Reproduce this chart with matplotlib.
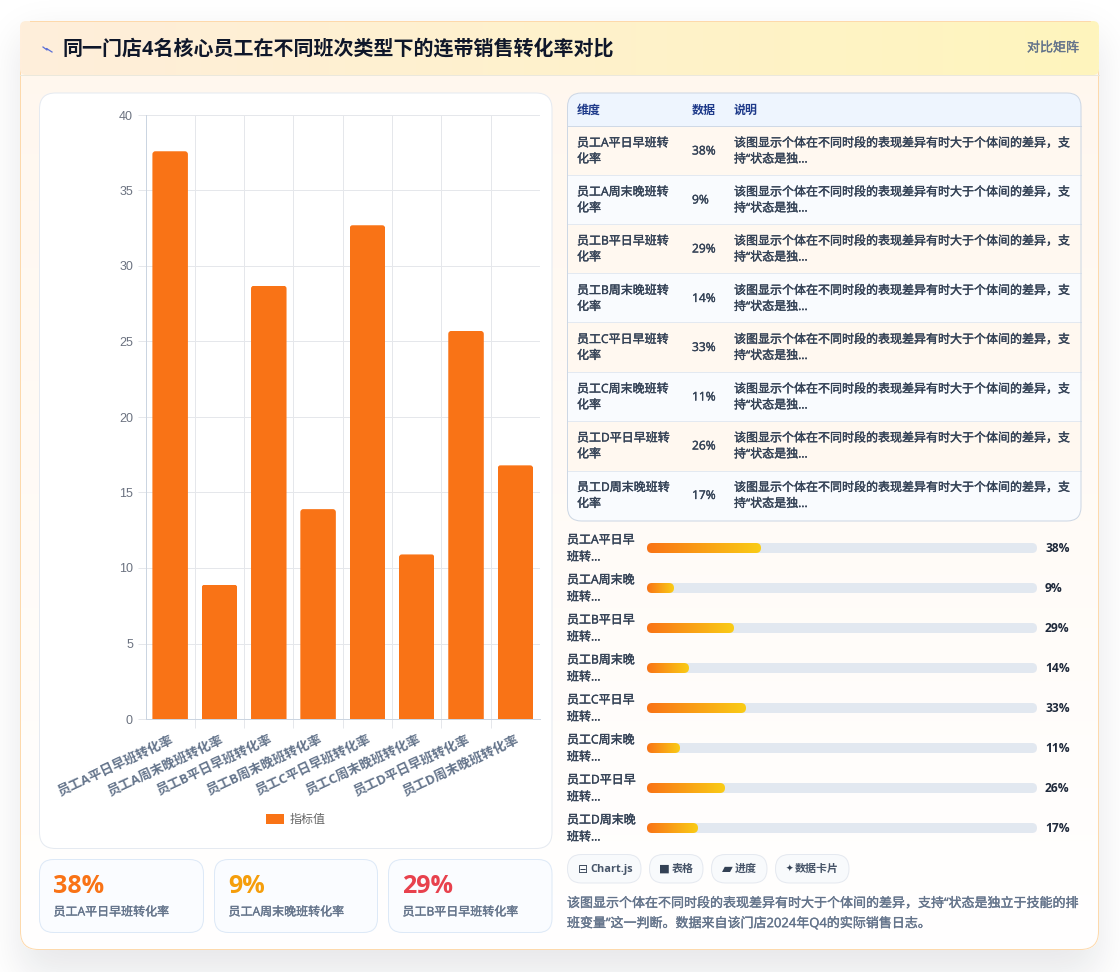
from math import erf

import numpy as np
from matplotlib import patheffects
from matplotlib import pyplot as plt
from matplotlib.colors import to_rgb
from matplotlib.patches import FancyBboxPatch, Rectangle
from matplotlib.transforms import ScaledTranslation

plt.rcParams['font.family'] = ['Open Sans', 'Noto Sans CJK SC', 'DejaVu Sans']

WIDTH, HEIGHT = 1120, 972

categories = ['员工A平日早班转化率', '员工A周末晚班转化率', '员工B平日早班转化率', '员工B周末晚班转化率',
              '员工C平日早班转化率', '员工C周末晚班转化率', '员工D平日早班转化率', '员工D周末晚班转化率']
chart_values = [37.6, 8.9, 28.7, 13.9, 32.7, 10.9, 25.7, 16.8]
percent_values = [38, 9, 29, 14, 33, 11, 26, 17]
y_ticks = [0, 5, 10, 15, 20, 25, 30, 35, 40]

table_headers = ['维度', '数据', '说明']
table_note = ['该图显示个体在不同时段的表现差异有时大于个体间的差异，支', '持“状态是独...']
card_colors = ['#f97316', '#f59e0b', '#e8414d']
chips = [('⊟', 'Chart.js'), ('■', '表格'), ('▰', '进度'), ('✦', '数据卡片')]
footer_lines = ['该图显示个体在不同时段的表现差异有时大于个体间的差异，支持“状态是独立于技能的排',
                '班变量”这一判断。数据来自该门店2024年Q4的实际销售日志。']

TITLE = '同一门店4名核心员工在不同班次类型下的连带销售转化率对比'
BADGE = '对比矩阵'
LEGEND_LABEL = '指标值'


def px(size):
    # css pixels to points at dpi 100
    return size * 0.72


def rounded_box(x0, y0, x1, y1, radius, **kwargs):
    return FancyBboxPatch((x0 + radius, y0 + radius), x1 - x0 - 2 * radius, y1 - y0 - 2 * radius,
                          boxstyle=f'round,pad={radius},rounding_size={radius}', **kwargs)


def gradient(axes, extent, start, end, horizontal=True, clip=None, zorder=1):
    x0, y0, x1, y1 = extent
    ramp = np.linspace(0, 1, 256)
    colors = np.outer(1 - ramp, to_rgb(start)) + np.outer(ramp, to_rgb(end))
    image = colors[np.newaxis, :, :] if horizontal else colors[:, np.newaxis, :]
    artist = axes.imshow(image, extent=(x0, x1, y1, y0), aspect='auto', interpolation='bilinear', zorder=zorder)
    if clip is not None:
        artist.set_clip_path(clip)
    return artist


def draw_shadow(axes, x0, y0, x1, y1, sigma, strength):
    # soft box shadow, product of two blurred edges
    blur = np.vectorize(erf)
    xs = np.arange(WIDTH) + 0.5
    ys = np.arange(HEIGHT) + 0.5
    across = 0.5 * (blur((xs - x0) / (sigma * 2 ** 0.5)) - blur((xs - x1) / (sigma * 2 ** 0.5)))
    down = 0.5 * (blur((ys - y0) / (sigma * 2 ** 0.5)) - blur((ys - y1) / (sigma * 2 ** 0.5)))
    layer = np.zeros((HEIGHT, WIDTH, 4))
    layer[..., :3] = to_rgb('#0f172a')
    layer[..., 3] = strength * np.outer(down, across)
    axes.imshow(layer, extent=(0, WIDTH, HEIGHT, 0), aspect='auto', zorder=0)


def semibold(axes, x, y, text, size, color, **kwargs):
    # regular weight with a hairline stroke, the font has no semibold cut here
    return axes.text(x, y, text, fontsize=px(size), color=color, va='center', zorder=3,
                     path_effects=[patheffects.withStroke(linewidth=0.25, foreground=color)], **kwargs)


figure = plt.figure(figsize=(WIDTH / 100, HEIGHT / 100), dpi=100, facecolor='white')
canvas = figure.add_axes([0, 0, 1, 1])
canvas.set_axis_off()
LINE = px(1)

# outer card
draw_shadow(canvas, 20, 36, 1099, 975, 20, 0.1)
card = rounded_box(20, 21, 1099, 950, 18, facecolor='white', edgecolor='none', zorder=1,
                   transform=canvas.transData)
canvas.add_patch(card)
gradient(canvas, (20, 40, 1099, 950), '#fff7ee', '#ffffff', horizontal=False, clip=card, zorder=1.1)
canvas.add_patch(rounded_box(20.5, 21.5, 1098.5, 949.5, 18, facecolor='none', edgecolor='#fdd9ac',
                             linewidth=LINE, zorder=1.2))
header = rounded_box(20, 21, 1099, 75, 6, facecolor='none', edgecolor='none', zorder=1.3)
canvas.add_patch(header)
gradient(canvas, (20, 21, 1099, 75), '#ffeedb', '#fef5bd', clip=header, zorder=1.3)
canvas.plot([30, 1090], [21.5, 21.5], color='#fdd9ac', linewidth=LINE, zorder=1.4)
canvas.plot([20, 1099], [75.5, 75.5], color='#ebe8dc', linewidth=LINE, zorder=1.4)

# header
canvas.plot([43, 47, 46.5, 52], [47, 50, 48.5, 52], color='#5b6fd6', linewidth=0.9, zorder=3)
canvas.text(63, 50, TITLE, fontsize=px(20), fontweight='bold', color='#0f172a', va='center', zorder=3)
semibold(canvas, 1079, 48, BADGE, 13, '#64748b', ha='right')

# chart panel
canvas.add_patch(rounded_box(39.5, 93, 552, 848.5, 16, facecolor='white', edgecolor='#e5eaf1', linewidth=LINE, zorder=2))

# stat cards
card_edges = [(39.5, 203.5), (214.5, 377.5), (388.5, 552)]
for (left, right), value, label, color in zip(card_edges, percent_values, categories, card_colors):
    canvas.add_patch(rounded_box(left, 859.5, right, 932.5, 14, facecolor='#fafcff', edgecolor='#dde9f7',
                                 linewidth=LINE, zorder=2))
    canvas.text(left + 14, 886, f'{value}%', fontsize=px(25), fontweight='bold', color=color, va='center', zorder=3)
    semibold(canvas, left + 14, 912, label, 12, '#64748b')

# table panel
row_edges = [126, 175, 224, 273.5, 322.5, 372, 421, 470.5, 521]
table = rounded_box(567.5, 93, 1081, 521, 14, facecolor='white', edgecolor='none', zorder=2)
canvas.add_patch(table)
header_fill = canvas.add_patch(Rectangle((567, 93), 515, 33, facecolor='#eef5fe', edgecolor='none', zorder=2.1))
header_fill.set_clip_path(table)
canvas.plot([567.5, 1081], [126, 126], color='#cfd9e6', linewidth=LINE, zorder=2.4)
for x, column in zip([577, 692, 734], table_headers):
    canvas.text(x, 110, column, fontsize=px(12), fontweight='bold', color='#1e3a8a', va='center', zorder=3)

for index, (name, value) in enumerate(zip(categories, percent_values)):
    top, bottom = row_edges[index], row_edges[index + 1]
    shade = '#fff8f0' if index % 2 == 0 else '#f9fbfe'
    row = canvas.add_patch(Rectangle((567, top), 515, bottom - top, facecolor=shade, edgecolor='none', zorder=2.1))
    row.set_clip_path(table)
    if index > 0:
        canvas.plot([567.5, 1081], [top, top], color='#e3e9f1', linewidth=LINE, zorder=2.4)
    semibold(canvas, 577, top + 17, name[:8], 12, '#334155')
    semibold(canvas, 577, top + 33, name[8:], 12, '#334155')
    semibold(canvas, 692, top + 25, f'{value}%', 12, '#334155')
    semibold(canvas, 734, top + 17, table_note[0], 12, '#334155')
    semibold(canvas, 734, top + 33, table_note[1], 12, '#334155')
canvas.add_patch(rounded_box(567.5, 93, 1081, 521, 14, facecolor='none', edgecolor='#cdd7e4', linewidth=LINE, zorder=2.5))

# progress rows, 3 px per percentage point on a 390 px track
TRACK_LEFT, TRACK_RIGHT, TRACK_SCALE = 647, 1037, 130
for index, (name, value) in enumerate(zip(categories, percent_values)):
    center = 548 + 40 * index
    semibold(canvas, 567, center - 8, name[:6], 12, '#334155')
    semibold(canvas, 567, center + 9, name[6:8] + '...', 12, '#334155')
    canvas.add_patch(rounded_box(TRACK_LEFT, center - 5, TRACK_RIGHT, center + 5, 5, facecolor='#e2e8f0',
                                 edgecolor='none', zorder=2))
    fill_right = TRACK_LEFT + (TRACK_RIGHT - TRACK_LEFT) * value / TRACK_SCALE
    fill = rounded_box(TRACK_LEFT, center - 5, fill_right, center + 5, 5, facecolor='none', edgecolor='none', zorder=2.1)
    canvas.add_patch(fill)
    gradient(canvas, (TRACK_LEFT, center - 5, fill_right, center + 5), '#f97316', '#facc15', clip=fill, zorder=2.2)
    canvas.text(1045, center + 0.5, f'{value}%', fontsize=px(12), fontweight='bold', color='#1e293b', va='center', zorder=3)

# chips
chip_edges = [(567.5, 641), (649.5, 703), (711.5, 767), (775.5, 849)]
chip_label_offsets = [22.5, 22.5, 23.5, 19.5]
chip_icon_sizes = [12, 11.5, 14, 9]
for (left, right), (icon, label), offset, icon_size in zip(chip_edges, chips, chip_label_offsets, chip_icon_sizes):
    canvas.add_patch(rounded_box(left, 854.5, right, 883, 14, facecolor='#f8fafc', edgecolor='#e5e9f0',
                                 linewidth=LINE, zorder=2))
    canvas.text(left + 10, 869, icon, fontsize=px(icon_size), color='#334155', va='center', family='DejaVu Sans', zorder=3)
    canvas.text(left + offset, 869, label, fontsize=px(11), fontweight='bold', color='#475569', va='center', zorder=3)

# footer
semibold(canvas, 567, 903.5, footer_lines[0], 13, '#64748b')
semibold(canvas, 567, 923.5, footer_lines[1], 13, '#64748b')

canvas.set_xlim(0, WIDTH)
canvas.set_ylim(HEIGHT, 0)

# bar chart
PLOT_LEFT, PLOT_RIGHT, PLOT_TOP, PLOT_BOTTOM = 145.5, 540, 115, 719
axes = figure.add_axes([PLOT_LEFT / WIDTH, 1 - PLOT_BOTTOM / HEIGHT,
                        (PLOT_RIGHT - PLOT_LEFT) / WIDTH, (PLOT_BOTTOM - PLOT_TOP) / HEIGHT])
axes.patch.set_alpha(0)
positions = np.arange(len(categories))
bars = axes.bar(positions, chart_values, width=0.72, color='#f97316', label=LEGEND_LABEL, zorder=3)
axes.set_xlim(-0.5, len(categories) - 0.5)
axes.set_ylim(0, 40)

# round the top corners only, the clip box runs past the baseline
for bar in bars:
    clip_box = FancyBboxPatch((bar.get_x() + 0.06, -1), bar.get_width() - 0.12, bar.get_height() + 1 - 0.2,
                              boxstyle='round,pad=0.06,rounding_size=0.06', mutation_aspect=3.3,
                              transform=axes.transData)
    bar.set_clip_path(clip_box)

axes.set_yticks(y_ticks)
axes.set_xticks(positions)
axes.set_xticklabels(categories, rotation=25, ha='right', va='top', rotation_mode='anchor', fontsize=px(13),
                     fontweight='bold', color='#64748b')
nudge = ScaledTranslation(-3 / 100, 0, figure.dpi_scale_trans)
for tick_label in axes.get_xticklabels():
    tick_label.set_transform(tick_label.get_transform() + nudge)
axes.set_xticks(positions[:-1] + 0.5, minor=True)
axes.tick_params(axis='x', which='major', length=0, pad=px(14))
axes.tick_params(axis='x', which='minor', length=px(9), color='#e5e7eb', width=LINE)
axes.tick_params(axis='y', length=px(8), color='#e5e7eb', width=LINE, pad=px(4.5), labelsize=px(12.5), labelcolor='#6b7280')
for tick_label in axes.get_yticklabels():
    tick_label.set_fontfamily('Liberation Sans')
axes.grid(axis='y', color='#e5e7eb', linewidth=LINE, zorder=1)
axes.grid(axis='x', which='minor', color='#e5e7eb', linewidth=LINE, zorder=1)
axes.set_axisbelow(True)
for side in ['top', 'right']:
    axes.spines[side].set_visible(False)
axes.spines['left'].set_color('#cbd5e1')
axes.spines['bottom'].set_color('#cbd5e1')
axes.spines['left'].set_linewidth(LINE)
axes.spines['bottom'].set_linewidth(LINE)

figure.legend(handles=[bars], labels=[LEGEND_LABEL], loc='center', bbox_to_anchor=(296 / WIDTH, 1 - 819.5 / HEIGHT),
              frameon=False, fontsize=px(12), labelcolor='#666666', handlelength=1.5, handleheight=1.0,
              handletextpad=0.5)

plt.savefig('out.png', dpi=100)
